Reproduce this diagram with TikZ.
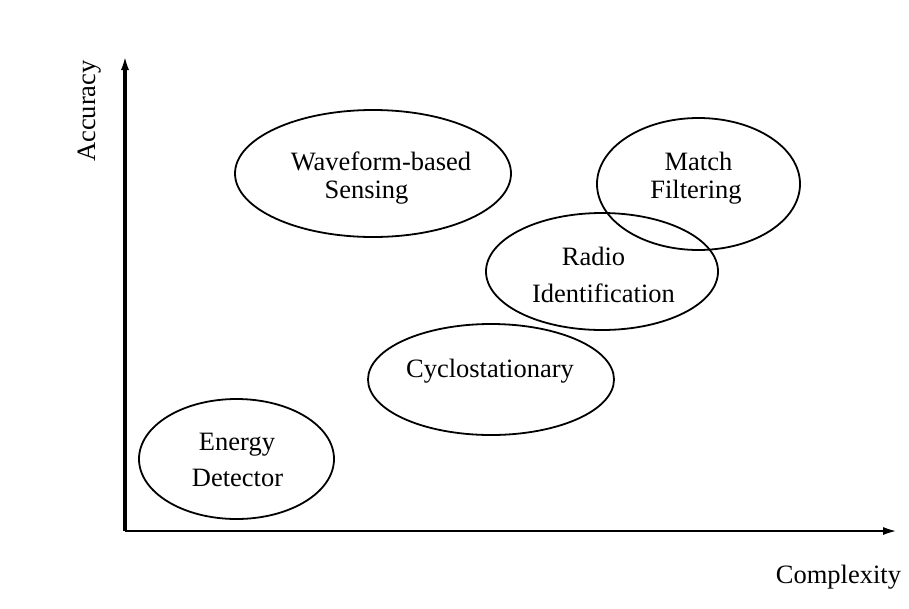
\documentclass[tikz,border=0pt]{standalone}
\usepackage{fontspec}
\setmainfont{Liberation Serif}
\usetikzlibrary{shapes.geometric,arrows.meta}
\tikzset{
  region/.style={ellipse, draw, line width=1.8pt, inner sep=0pt},
  lbl/.style={anchor=base, inner sep=0pt, font=\fontsize{26.5}{30}\selectfont},
  axis/.style={line width=2.8pt, -{Latex[length=15pt,width=8pt]}}
}
\begin{document}
\begin{tikzpicture}[x=1pt,y=-1pt]
\useasboundingbox (0,0) rectangle (909,608);

% axes
\coordinate (o) at (125,531);
\coordinate (ytip) at (125,55);
\coordinate (xtip) at (898,531);
\draw[axis, line width=3.2pt] (o) -- (ytip);
\draw[axis] (o) -- (xtip);
\node[lbl, rotate=90] (acc) at (95,111) {Accuracy};
\node[lbl] (cpx) at (838.5,583) {Complexity};

% technique regions
\node[region, minimum width=276pt, minimum height=127pt] (wf) at (373,173.5) {};
\node[region, minimum width=203pt, minimum height=132pt] (mf) at (698.5,184) {};
\node[region, minimum width=232pt, minimum height=117pt] (ri) at (602,271.5) {};
\node[region, minimum width=246pt, minimum height=111pt] (cy) at (491,379.5) {};
\node[region, minimum width=195pt, minimum height=120pt] (ed) at (236.5,459) {};

% labels
\node[lbl] (wf1) at (381,170) {Waveform-based};
\node[lbl] (wf2) at (366.5,198) {Sensing};
\node[lbl] (mf1) at (698.5,170) {Match};
\node[lbl] (mf2) at (696,198) {Filtering};
\node[lbl] (ri1) at (593.5,265) {Radio};
\node[lbl] (ri2) at (603.5,302) {Identification};
\node[lbl] (cy1) at (490,377) {Cyclostationary};
\node[lbl] (ed1) at (237,450) {Energy};
\node[lbl] (ed2) at (237.5,486) {Detector};
\end{tikzpicture}
\end{document}
